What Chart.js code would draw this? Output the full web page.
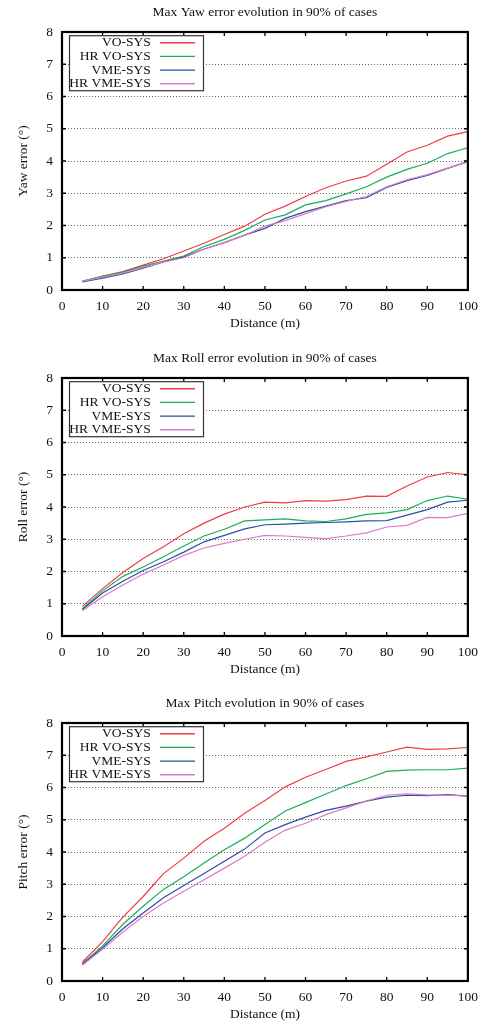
<!DOCTYPE html>
<html>
<head>
<meta charset="utf-8">
<script src="https://cdn.jsdelivr.net/npm/chart.js@4.4.0/dist/chart.umd.min.js"></script>
<style>
  html, body { margin: 0; padding: 0; background: #fff; overflow: hidden; }
  .box { position: absolute; left: 0; width: 486px; height: 342px; }
</style>
</head>
<body>
<div class="box" style="top:0px"><canvas id="yawChart" width="486" height="342"></canvas></div>
<div class="box" style="top:346px"><canvas id="rollChart" width="486" height="342"></canvas></div>
<div class="box" style="top:691px"><canvas id="pitchChart" width="486" height="342"></canvas></div>
<script>
var distances = [5, 10, 15, 20, 25, 30, 35, 40, 45, 50, 55, 60, 65, 70, 75, 80, 85, 90, 95, 100];
var seriesNames = ['VO-SYS', 'HR VO-SYS', 'VME-SYS', 'HR VME-SYS'];
var seriesColors = ['#f03c46', '#1aae5a', '#2b4ea3', '#dc7cc4'];
var xTicks = [0, 10, 20, 30, 40, 50, 60, 70, 80, 90, 100];
var yTicks = [0, 1, 2, 3, 4, 5, 6, 7, 8];

// yaw
var yawVO    = [0.26, 0.43, 0.57, 0.77, 0.97, 1.21, 1.45, 1.72, 1.98, 2.35, 2.60, 2.90, 3.17, 3.38, 3.53, 3.90, 4.28, 4.49, 4.77, 4.91];
var yawHRVO  = [0.28, 0.42, 0.55, 0.74, 0.90, 1.05, 1.35, 1.57, 1.85, 2.17, 2.33, 2.64, 2.77, 2.98, 3.20, 3.50, 3.74, 3.93, 4.23, 4.41];
var yawVME   = [0.25, 0.37, 0.50, 0.68, 0.87, 1.02, 1.27, 1.47, 1.70, 1.91, 2.22, 2.43, 2.60, 2.77, 2.86, 3.18, 3.39, 3.55, 3.77, 3.98];
var yawHRVME = [0.27, 0.40, 0.52, 0.70, 0.87, 1.00, 1.27, 1.47, 1.70, 1.98, 2.15, 2.37, 2.58, 2.75, 2.90, 3.20, 3.42, 3.58, 3.78, 3.97];

// roll
var rollVO    = [0.92, 1.47, 1.97, 2.40, 2.77, 3.17, 3.50, 3.78, 4.00, 4.15, 4.13, 4.20, 4.18, 4.23, 4.34, 4.33, 4.65, 4.93, 5.07, 5.00];
var rollHRVO  = [0.85, 1.40, 1.85, 2.14, 2.46, 2.79, 3.10, 3.31, 3.57, 3.60, 3.63, 3.57, 3.55, 3.63, 3.77, 3.82, 3.92, 4.20, 4.34, 4.24];
var rollVME   = [0.82, 1.33, 1.70, 2.03, 2.30, 2.60, 2.92, 3.12, 3.32, 3.45, 3.47, 3.50, 3.52, 3.54, 3.57, 3.58, 3.75, 3.92, 4.15, 4.21];
var rollHRVME = [0.78, 1.22, 1.58, 1.92, 2.20, 2.50, 2.73, 2.87, 3.00, 3.12, 3.10, 3.06, 3.02, 3.10, 3.20, 3.38, 3.43, 3.68, 3.67, 3.80];

// pitch
var pitchVO    = [0.58, 1.22, 1.98, 2.62, 3.33, 3.81, 4.33, 4.74, 5.20, 5.60, 6.02, 6.32, 6.56, 6.81, 6.95, 7.10, 7.25, 7.18, 7.20, 7.24];
var pitchHRVO  = [0.53, 1.09, 1.76, 2.32, 2.84, 3.23, 3.66, 4.07, 4.43, 4.85, 5.27, 5.53, 5.80, 6.06, 6.27, 6.50, 6.54, 6.55, 6.55, 6.60];
var pitchVME   = [0.52, 1.03, 1.62, 2.11, 2.58, 2.96, 3.33, 3.71, 4.09, 4.59, 4.85, 5.08, 5.29, 5.42, 5.58, 5.70, 5.76, 5.75, 5.78, 5.73];
var pitchHRVME = [0.49, 0.98, 1.52, 2.00, 2.42, 2.78, 3.14, 3.50, 3.87, 4.30, 4.68, 4.89, 5.16, 5.37, 5.58, 5.76, 5.80, 5.77, 5.76, 5.73];

var FONT = 'Liberation Serif, Times New Roman, serif';
var FSIZE = 13.5;

// gnuplot-ish frame, inward ticks, title and legend box
var gnuFrame = {
    id: 'gnuFrame',
    afterDatasetsDraw: function(chart) {
        var ctx = chart.ctx, a = chart.chartArea;
        var xs = chart.scales.x, ys = chart.scales.y;
        ctx.save();
        ctx.strokeStyle = '#000';
        ctx.lineWidth = 1.3;
        ctx.beginPath();
        xTicks.forEach(function(v) {
            var px = xs.getPixelForValue(v);
            ctx.moveTo(px, a.bottom); ctx.lineTo(px, a.bottom - 4);
            ctx.moveTo(px, a.top); ctx.lineTo(px, a.top + 4);
        });
        yTicks.forEach(function(v) {
            var py = ys.getPixelForValue(v);
            ctx.moveTo(a.left, py); ctx.lineTo(a.left + 4, py);
            ctx.moveTo(a.right, py); ctx.lineTo(a.right - 4, py);
        });
        ctx.stroke();
        ctx.lineWidth = 2.2;
        ctx.strokeRect(a.left, a.top, a.right - a.left, a.bottom - a.top);

        // title over the plot area
        ctx.fillStyle = '#111';
        ctx.font = FSIZE + 'px ' + FONT;
        ctx.textAlign = 'center';
        ctx.textBaseline = 'middle';
        ctx.fillText(chart.options.plugins.gnuFrame.title, (a.left + a.right) / 2, 12);

        // legend
        var bx = a.left + 7.5, by = a.top + 3.7;
        ctx.fillStyle = '#fff';
        ctx.fillRect(bx, by, 134, 55);
        ctx.strokeStyle = '#333';
        ctx.lineWidth = 1.2;
        ctx.strokeRect(bx, by, 134, 55);
        ctx.textAlign = 'right';
        chart.data.datasets.forEach(function(ds, i) {
            var ry = by + 7 + i * 13.7;
            ctx.fillStyle = '#111';
            ctx.fillText(ds.label, a.left + 88.7, ry);
            ctx.strokeStyle = ds.borderColor;
            ctx.lineWidth = 1.4;
            ctx.beginPath();
            ctx.moveTo(a.left + 98, ry);
            ctx.lineTo(a.left + 133, ry);
            ctx.stroke();
        });
        ctx.restore();
    }
};

function makeChart(id, title, yTitle, series) {
    var datasets = [];
    for (var i = 0; i < series.length; i++) {
        var pts = [];
        for (var j = 0; j < distances.length; j++) {
            pts.push({x: distances[j], y: series[i][j]});
        }
        datasets.push({
            label: seriesNames[i],
            data: pts,
            borderColor: seriesColors[i],
            backgroundColor: seriesColors[i],
            borderWidth: 1.2,
            pointRadius: 0,
            fill: false,
            tension: 0,
            order: series.length - i
        });
    }

    return new Chart(document.getElementById(id), {
        type: 'line',
        data: {datasets: datasets},
        plugins: [gnuFrame],
        options: {
            responsive: false,
            animation: false,
            devicePixelRatio: 1,
            layout: {padding: {left: 0, right: 18, top: 32, bottom: 0}},
            plugins: {
                legend: {display: false},
                tooltip: {enabled: false},
                title: {display: false},
                gnuFrame: {title: title}
            },
            scales: {
                x: {
                    type: 'linear',
                    min: 0,
                    max: 100,
                    afterBuildTicks: function(s) { s.ticks = xTicks.map(function(v) { return {value: v}; }); },
                    afterFit: function(s) { s.height = 52; },
                    ticks: {font: {family: FONT, size: FSIZE}, color: '#111', padding: 8, maxRotation: 0},
                    grid: {display: false, drawTicks: false},
                    border: {display: false},
                    title: {display: true, text: 'Distance (m)', font: {family: FONT, size: FSIZE}, color: '#111', padding: {top: 0, bottom: 10}}
                },
                y: {
                    min: 0,
                    max: 8,
                    afterBuildTicks: function(s) { s.ticks = yTicks.map(function(v) { return {value: v}; }); },
                    afterFit: function(s) { s.width = 62; },
                    ticks: {font: {family: FONT, size: FSIZE}, color: '#111', padding: 9},
                    grid: {color: '#666', lineWidth: 1, drawTicks: false},
                    border: {display: false, dash: [1, 2]},
                    title: {display: true, text: yTitle, font: {family: FONT, size: FSIZE}, color: '#111', padding: {top: 15, bottom: 0}}
                }
            }
        }
    });
}

makeChart('yawChart', 'Max Yaw error evolution in 90% of cases', 'Yaw error (\u00B0)', [yawVO, yawHRVO, yawVME, yawHRVME]);
makeChart('rollChart', 'Max Roll error evolution in 90% of cases', 'Roll error (\u00B0)', [rollVO, rollHRVO, rollVME, rollHRVME]);
makeChart('pitchChart', 'Max Pitch evolution in 90% of cases', 'Pitch error (\u00B0)', [pitchVO, pitchHRVO, pitchVME, pitchHRVME]);
</script>
</body>
</html>
